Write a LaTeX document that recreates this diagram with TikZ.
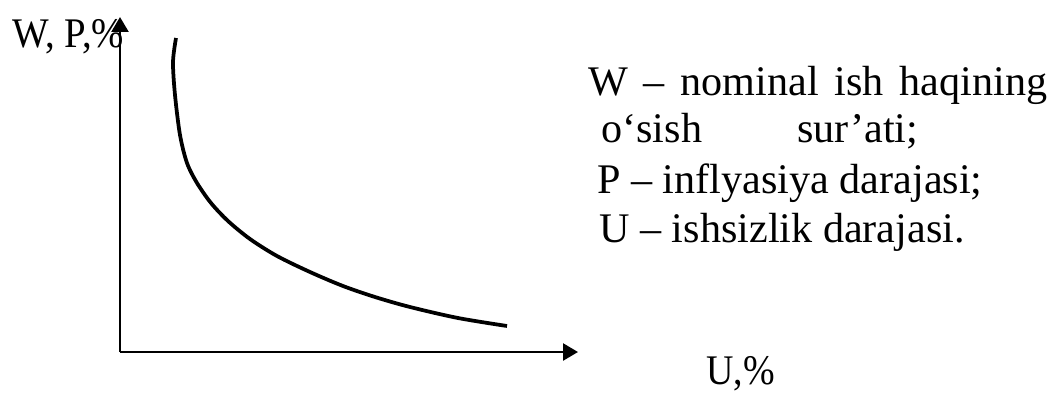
\documentclass[tikz,border=0pt]{standalone}
\usepackage{fontspec}
\setmainfont{Liberation Serif}
\usetikzlibrary{arrows.meta}
\begin{document}
\begin{tikzpicture}[x=0.02cm, y=-0.02cm, >={Triangle[length=0.3cm, width=0.34cm]},
		axis/.style={->, line width=0.05cm},
		curve/.style={line width=0.075cm},
		txt/.style={font=\fontsize{24}{28}\selectfont, inner sep=0pt, anchor=base west}]
				\useasboundingbox (0,0) rectangle (1050,392);
				% coordinates
				\coordinate (O) at (120,352);
				\coordinate (Ytop) at (120,17);
				\coordinate (Xend) at (578,352);
				% axes
				\draw[axis] (O) -- (Ytop);
				\draw[axis] (O) -- (Xend);
				% Phillips curve
				\draw[curve] plot[smooth, tension=0.5] coordinates {(176,38) (173,62) (175,95) (180,135) (187,163) (197,183) (211,203) (228,221) (250,239) (277,256) (310,272) (343,286) (375,297) (410,307) (458,318) (507,326)};
				% axis labels
				\node[txt] (ylab) at (12,47) {\scalebox{0.92}[1]{W, P,\%}};
				\node[txt] (xlab) at (706,384) {\scalebox{0.9}[1]{U,\%}};
				% legend
				\node[txt] (leg1) at (588,95) {\makebox[9.18cm][s]{W – nominal ish haqining}};
				\node[txt] (leg2) at (601,142) {\makebox[6.34cm][s]{o‘sish sur’ati;}};
				\node[txt] (leg3) at (597,193) {P – inflyasiya darajasi;};
				\node[txt] (leg4) at (599,242) {U – ishsizlik darajasi.};
\end{tikzpicture}
\end{document}
